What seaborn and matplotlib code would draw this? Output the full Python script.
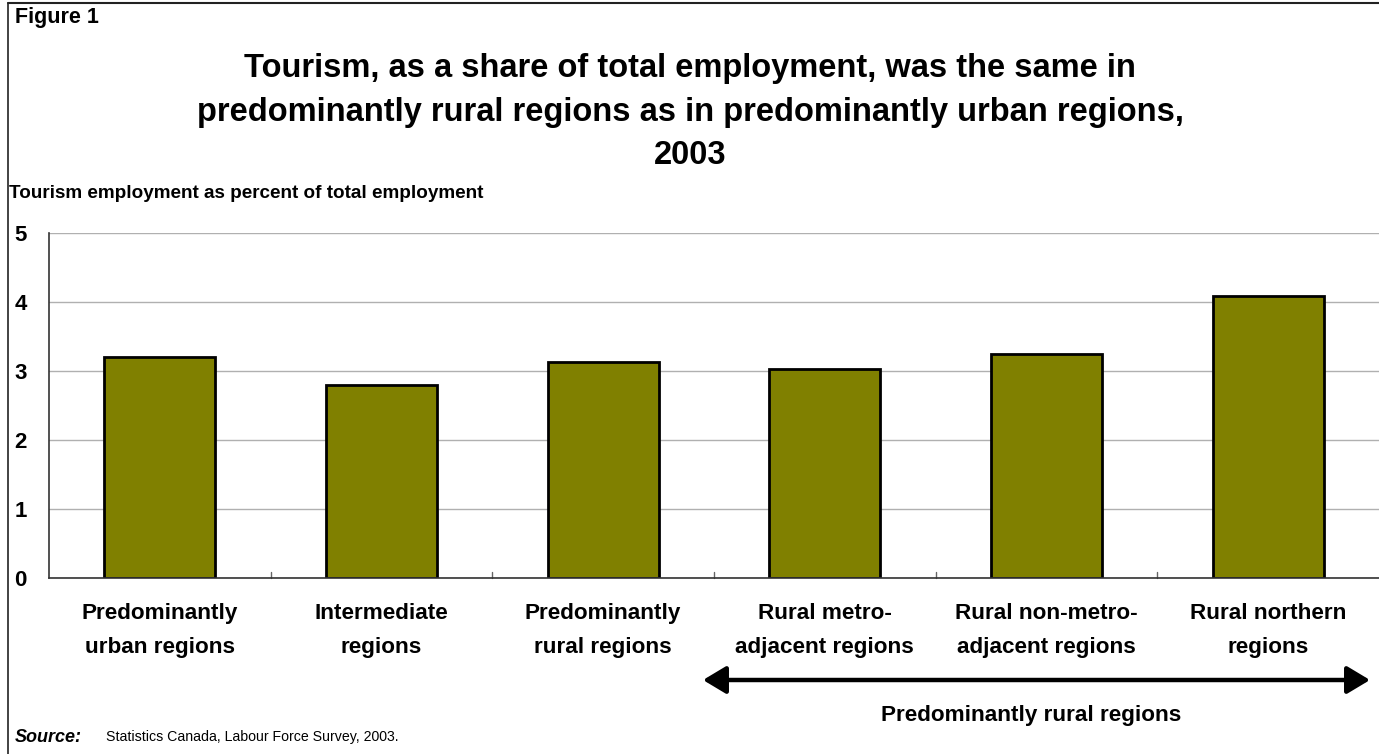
import matplotlib
matplotlib.use("Agg")
import matplotlib.pyplot as plt
import seaborn as sns
from matplotlib.lines import Line2D

categories = [
    "Predominantly\nurban regions",
    "Intermediate\nregions",
    "Predominantly\nrural regions",
    "Rural metro-\nadjacent regions",
    "Rural non-metro-\nadjacent regions",
    "Rural northern\nregions",
]
values = [3.2, 2.8, 3.13, 3.03, 3.25, 4.08]
y_ticks = [0, 1, 2, 3, 4, 5]

title = ("Tourism, as a share of total employment, was the same in\n"
         "predominantly rural regions as in predominantly urban regions,\n"
         "2003")
y_label = "Tourism employment as percent of total employment"
group_label = "Predominantly rural regions"

sns.set_theme(style="white")
plt.rcParams["font.family"] = ["Liberation Sans", "DejaVu Sans"]
plt.rcParams["text.color"] = "black"
plt.rcParams["xtick.color"] = "black"
plt.rcParams["ytick.color"] = "black"

W, H = 1379, 754
fig = plt.figure(figsize=(W / 100, H / 100), dpi=100)
ax = fig.add_axes([49 / W, 1 - 578 / H, (1379 - 49) / W, (578 - 233) / H])

sns.barplot(x=categories, y=values, color="#808000", edgecolor="black",
            linewidth=2, width=0.5, saturation=1, ax=ax)

ax.set_ylim(0, 5)
ax.set_xlim(-0.5, 5.5)
ax.set_yticks(y_ticks)
ax.set_yticklabels([str(t) for t in y_ticks], fontsize=16, fontweight="bold")
ax.yaxis.grid(True, color="#b0b0b0", linewidth=1)
ax.set_axisbelow(True)
ax.tick_params(axis="y", length=0, pad=16)
ax.tick_params(axis="x", length=0, pad=18)
for lab in ax.get_xticklabels():
    lab.set_fontsize(16.2)
    lab.set_fontweight("bold")
    lab.set_linespacing(1.8)

for side in ["top", "right"]:
    ax.spines[side].set_visible(False)
for side in ["left", "bottom"]:
    ax.spines[side].set_color("#333333")
    ax.spines[side].set_linewidth(1.2)

# small boundary ticks between categories along the baseline
for b in [0.5, 1.5, 2.5, 3.5, 4.5]:
    ax.plot([b, b], [0, 0.09], color="#666666", linewidth=1, clip_on=False)

ax.set_xlabel("")
ax.set_ylabel("")

# figure frame (left and top edges)
fig.add_artist(Line2D([8 / W, 8 / W], [0, 1 - 3 / H], color="#222222", linewidth=1.2))
fig.add_artist(Line2D([8 / W, 1], [1 - 3 / H, 1 - 3 / H], color="#222222", linewidth=1.5))

fig.text(15 / W, 1 - 17 / H, "Figure 1", fontsize=15.5, fontweight="bold",
         va="center", ha="left")
fig.text(690 / W, 1 - 112 / H, title, fontsize=23.5, fontweight="bold",
         ha="center", va="center", linespacing=1.52)
fig.text(9 / W, 1 - 193 / H, y_label, fontsize=13.6, fontweight="bold",
         ha="left", va="center")

# arrow spanning the rural sub-regions
ax.annotate("", xy=(1370 / W, 1 - 680 / H), xytext=(703 / W, 1 - 680 / H),
            xycoords="figure fraction", textcoords="figure fraction",
            arrowprops=dict(arrowstyle="<|-|>,head_length=0.7,head_width=0.42",
                            color="black", linewidth=3.2, mutation_scale=20,
                            shrinkA=0, shrinkB=0))
fig.text(1031 / W, 1 - 716 / H, group_label, fontsize=16.2, fontweight="bold",
         ha="center", va="center")

fig.text(15 / W, 1 - 737 / H, "Source:", fontsize=13, fontweight="bold",
         style="italic", ha="left", va="center")
fig.text(106 / W, 1 - 737 / H, "Statistics Canada, Labour Force Survey, 2003.",
         fontsize=10.2, ha="left", va="center")

fig.savefig("out.png", dpi=100, facecolor="white")
